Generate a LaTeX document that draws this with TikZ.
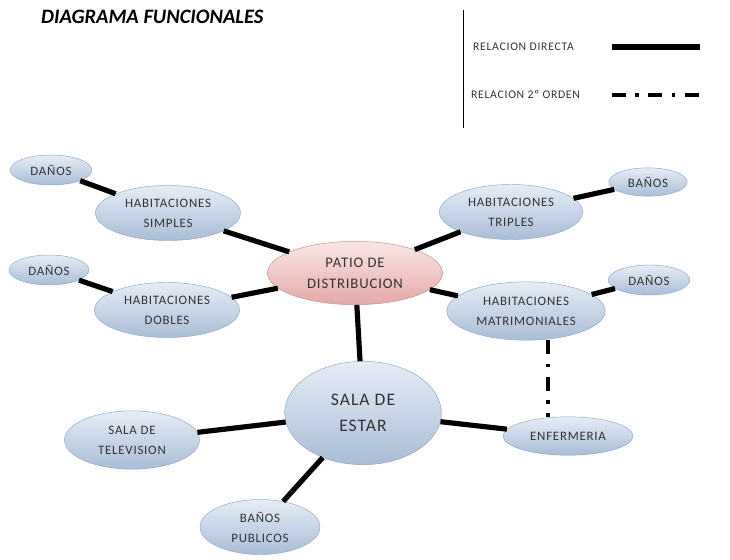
\documentclass[tikz,border=0pt]{standalone}
\usepackage{fontspec}
\setmainfont{Carlito}
\newfontfamily\spaced[LetterSpace=6]{Carlito}
\usetikzlibrary{shapes.geometric,positioning}
\definecolor{bluetop}{HTML}{E6EDF6}
\definecolor{bluebot}{HTML}{A9BDD7}
\definecolor{blueline}{HTML}{8FA6C4}
\definecolor{pinktop}{HTML}{FBE7E6}
\definecolor{pinkbot}{HTML}{E2A9A7}
\definecolor{pinkline}{HTML}{C48F8D}
\definecolor{txt}{HTML}{333333}
\begin{document}
\begin{tikzpicture}[x=0.03cm,y=-0.03cm,font=\spaced\fontsize{11}{13}\selectfont,
  room/.style={ellipse,draw=blueline,top color=bluetop,bottom color=bluebot,
    inner sep=0pt,align=center,text=txt},
  hub/.style={room,draw=pinkline,top color=pinktop,bottom color=pinkbot},
  lnk/.style={line width=4.4pt},
  dlnk/.style={line width=3.6pt,dash pattern=on 12pt off 8pt on 3pt off 8pt}]
\useasboundingbox (0,0) rectangle (730,559);
% title and legend
\node[anchor=west,font=\fontsize{17.5}{20}\selectfont\bfseries\itshape] (title) at (37,17) {DIAGRAMA FUNCIONALES};
\coordinate (sepT) at (463,10);
\coordinate (sepB) at (463,128);
\draw[line width=0.8pt] (sepT) -- (sepB);
\node[anchor=west,font=\spaced\fontsize{10}{12}\selectfont,text=txt] (ley1) at (469,47) {RELACION DIRECTA};
\node[anchor=west,font=\spaced\fontsize{10}{12}\selectfont,text=txt] (ley2) at (467,95) {RELACION 2º ORDEN};
\coordinate (l1a) at (612,47);
\coordinate (l1b) at (700,47);
\coordinate (l2a) at (612,95);
\coordinate (l2b) at (700,95);
\draw[lnk] (l1a) -- (l1b);
\draw[dlnk] (l2a) -- (l2b);
% spaces
\node[hub,minimum width=5.25cm,minimum height=1.9cm,font=\spaced\fontsize{12.5}{14}\selectfont] (patio) at (355,273) {PATIO DE\\[4pt]DISTRIBUCION};
\node[room,minimum width=4.35cm,minimum height=1.65cm] (simples) at (168,213) {HABITACIONES\\[4pt]SIMPLES};
\node[room,minimum width=4.35cm,minimum height=1.65cm] (dobles) at (167,310) {HABITACIONES\\[4pt]DOBLES};
\node[room,minimum width=4.3cm,minimum height=1.65cm] (triples) at (511,212) {HABITACIONES\\[4pt]TRIPLES};
\node[room,minimum width=4.75cm,minimum height=1.75cm] (matri) at (526,311) {HABITACIONES\\[4pt]MATRIMONIALES};
\node[room,minimum width=2.45cm,minimum height=0.9cm] (bano1) at (51,170) {DAÑOS};
\node[room,minimum width=2.4cm,minimum height=0.9cm] (bano2) at (49,270) {DAÑOS};
\node[room,minimum width=2.35cm,minimum height=0.85cm] (bano3) at (648,182) {BAÑOS};
\node[room,minimum width=2.45cm,minimum height=0.9cm] (bano4) at (649,280) {DAÑOS};
\node[room,minimum width=4.7cm,minimum height=3.1cm,font=\spaced\fontsize{15}{17}\selectfont] (estar) at (363,413) {SALA DE\\[5pt]ESTAR};
\node[room,minimum width=4.05cm,minimum height=1.75cm] (tele) at (132,440) {SALA DE\\[4pt]TELEVISION};
\node[room,minimum width=3.6cm,minimum height=1.65cm] (publicos) at (260,527) {BAÑOS\\[4pt]PUBLICOS};
\node[room,minimum width=3.9cm,minimum height=1.15cm] (enfer) at (568,436) {ENFERMERIA};
% relations
\draw[lnk] (bano1) -- (simples);
\draw[lnk] (simples) -- (patio);
\draw[lnk] (bano2) -- (dobles);
\draw[lnk] (dobles) -- (patio);
\draw[lnk] (patio) -- (triples);
\draw[lnk] (triples) -- (bano3);
\draw[lnk] (patio) -- (matri);
\draw[lnk] (matri) -- (bano4);
\draw[lnk] (patio) -- (estar);
\draw[lnk] (estar) -- (tele);
\draw[lnk] (estar) -- (enfer);
\draw[lnk] (estar) -- (publicos);
\coordinate (dtop) at ([xshift=0.66cm]matri.south);
\draw[dlnk] (dtop) -- (dtop |- enfer.north);
\end{tikzpicture}
\end{document}
